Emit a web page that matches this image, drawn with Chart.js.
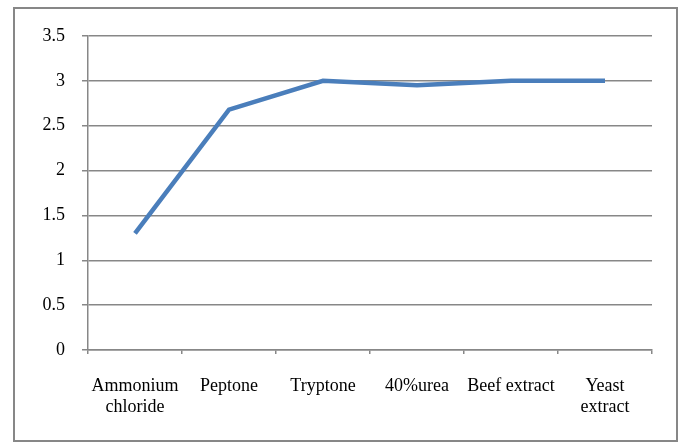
<!DOCTYPE html>
<html>
<head>
<meta charset="utf-8">
<script src="https://cdn.jsdelivr.net/npm/chart.js@4/dist/chart.umd.min.js"></script>
<style>
  body { margin: 0; background: #fff; }
  #wrap { position: relative; width: 685px; height: 444px; }
</style>
</head>
<body>
<div id="wrap"><canvas id="chart" width="685" height="444"></canvas></div>
<script>
// data
var categories = [['Ammonium', 'chloride'], 'Peptone', 'Tryptone', '40%urea', 'Beef extract', ['Yeast', 'extract']];
var values = [1.3, 2.68, 3.0, 2.95, 3.0, 3.0];
var yTicks = [0, 0.5, 1, 1.5, 2, 2.5, 3, 3.5];

var gray = '#878787';
var font = { family: '"Liberation Serif", "Times New Roman", serif', size: 18, lineHeight: 1.15 };

// outer frame around the whole figure
var frame = {
  id: 'frame',
  beforeDraw: function (chart) {
    let ctx = chart.ctx;
    ctx.save();
    ctx.fillStyle = '#fff';
    ctx.fillRect(0, 0, chart.width, chart.height);
    ctx.strokeStyle = gray;
    ctx.lineWidth = 2;
    ctx.strokeRect(14, 8, 663, 433);
    ctx.restore();
  }
};

new Chart(document.getElementById('chart'), {
  type: 'line',
  data: {
    labels: categories,
    datasets: [{
      data: values,
      borderColor: '#4a7ebb',
      borderWidth: 4.5,
      pointRadius: 0,
      tension: 0,
      fill: false
    }]
  },
  options: {
    responsive: false,
    animation: false,
    layout: { padding: { top: 36, right: 33, left: 0, bottom: 0 } },
    plugins: { legend: { display: false }, tooltip: { enabled: false } },
    scales: {
      x: {
        offset: true,
        grid: { offset: true, drawOnChartArea: false, drawTicks: true, tickLength: 4, color: gray, lineWidth: 1.5 },
        border: { display: true, color: gray, width: 1.5 },
        ticks: { color: '#000', font: font, padding: 22, maxRotation: 0, autoSkip: false },
        afterFit: function (s) { s.height = 94; }
      },
      y: {
        min: 0,
        max: 3.5,
        afterBuildTicks: function (s) { s.ticks = yTicks.map(function (v) { return { value: v }; }); },
        grid: { color: gray, lineWidth: 1.5, tickLength: 6 },
        border: { display: true, color: gray, width: 1.5 },
        ticks: { color: '#000', font: font, padding: 17, callback: function (v) { return String(v); } },
        afterFit: function (s) { s.width = 88; }
      }
    }
  },
  plugins: [frame]
});
</script>
</body>
</html>
